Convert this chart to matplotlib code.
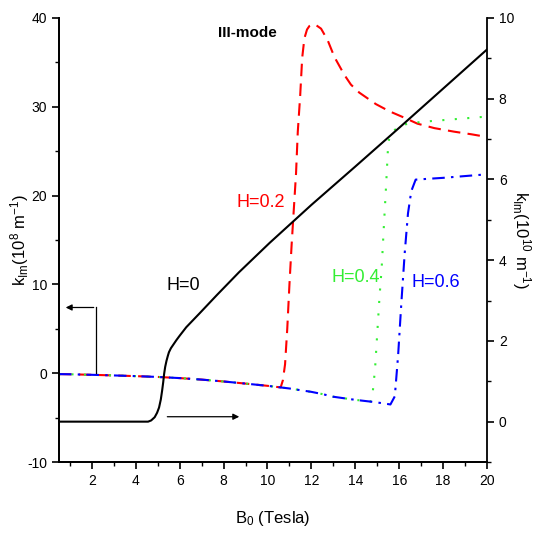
import matplotlib
matplotlib.use("Agg")
import matplotlib.pyplot as plt
from matplotlib.ticker import MultipleLocator

plt.rcParams['font.family'] = ['Liberation Sans Narrow', 'Liberation Sans', 'DejaVu Sans']
plt.rcParams['mathtext.default'] = 'regular'
plt.rcParams['axes.unicode_minus'] = False

# common low-field branch shared by H=0.2, 0.4, 0.6 (left axis, 10^8 m^-1)
base_b = [0.5, 1, 2, 3, 4, 5, 6, 7, 8, 9, 10, 10.6, 11, 12, 12.5, 13, 14, 14.7, 15, 15.3, 15.6]
base_k = [-0.1, -0.12, -0.18, -0.25, -0.33, -0.42, -0.55, -0.72, -0.93, -1.17, -1.42, -1.6,
          -1.72, -2.1, -2.35, -2.65, -3.0, -3.2, -3.3, -3.4, -3.52]

# H=0.2 after it leaves the common branch
h02_b = [10.7, 10.8, 10.9, 11.0, 11.1, 11.2, 11.3, 11.38, 11.49, 11.58, 11.68, 11.8, 11.91,
         12.05, 12.21, 12.44, 12.74, 13.05, 13.5, 13.8, 14.18, 14.94, 15.55, 16.3, 16.83,
         17.6, 18.5, 19.3, 20]
h02_k = [-0.8, 1.0, 5.0, 10.0, 14.5, 18.5, 22.5, 27.2, 31.3, 35.5, 37.7, 38.7, 39.1,
         39.3, 39.2, 38.8, 37.5, 35.6, 33.6, 32.5, 31.6, 30.3, 29.5, 28.7, 28.1,
         27.6, 27.2, 26.9, 26.6]

# H=0.4
h04_b = [14.8, 14.9, 15.0, 15.1, 15.2, 15.3, 15.4, 15.5, 15.6, 15.9, 16.2, 17, 18, 19, 20]
h04_k = [-2.0, 0.5, 4.5, 8.5, 11.8, 16.5, 21.0, 25.9, 27.0, 27.6, 28.0, 28.3, 28.5, 28.7, 28.9]

# H=0.6
h06_b = [15.8, 15.95, 16.1, 16.25, 16.4, 16.55, 16.75, 18, 20]
h06_k = [-2.6, 2.0, 8.0, 13.5, 18.0, 20.5, 21.8, 22.0, 22.4]

# H=0 (right axis, 10^10 m^-1)
h0_b = [0.5, 2, 4, 4.4, 4.56, 4.7, 4.86, 4.97, 5.06, 5.14, 5.2, 5.25, 5.29, 5.34, 5.4,
        5.46, 5.51, 5.6, 5.7, 5.85, 6.0, 6.3, 6.9, 7.7, 8.7, 10.1, 12, 14, 16, 18, 20]
h0_k = [0, 0, 0, 0, 0.0, 0.03, 0.11, 0.22, 0.35, 0.55, 0.77, 0.98, 1.18, 1.36, 1.51,
        1.63, 1.72, 1.82, 1.9, 2.02, 2.13, 2.34, 2.68, 3.14, 3.7, 4.43, 5.37, 6.32, 7.28,
        8.25, 9.22]


def branch(b_end, extra_b, extra_k):
    b = [v for v in base_b if v <= b_end] + extra_b
    k = [k for v, k in zip(base_b, base_k) if v <= b_end] + extra_k
    return b, k


fig = plt.figure(figsize=(5.36, 5.34), dpi=100)
ax = fig.add_axes([0.110, 0.1348, 0.7986, 0.8315])
ax2 = ax.twinx()

b, k = branch(10.6, h02_b, h02_k)
ax.plot(b, k, color='#ff0000', lw=1.5, dashes=(6, 3.5))
b, k = branch(14.7, h04_b, h04_k)
ax.plot(b, k, color='#33ee33', lw=1.5, dashes=(1, 5))
b, k = branch(15.6, h06_b, h06_k)
ax.plot(b, k, color='#0000ff', lw=1.5, dashes=(6, 3, 1.2, 3))

ax2.plot(h0_b, h0_k, color='black', lw=1.5)

ax.set_xlim(0.5, 20)
ax.set_ylim(-10, 40)
ax2.set_ylim(-1, 10)

ax.xaxis.set_major_locator(MultipleLocator(2))
ax.xaxis.set_minor_locator(MultipleLocator(1))
ax.yaxis.set_major_locator(MultipleLocator(10))
ax.yaxis.set_minor_locator(MultipleLocator(5))
ax2.yaxis.set_major_locator(MultipleLocator(2))
ax2.yaxis.set_minor_locator(MultipleLocator(1))

for a in (ax, ax2):
    a.spines['top'].set_visible(False)
    for s in a.spines.values():
        s.set_linewidth(1.3)
    a.tick_params(which='major', direction='out', length=5, width=1.2, labelsize=10)
    a.tick_params(which='minor', direction='out', length=3, width=1.0)
ax.spines['right'].set_visible(False)

lab_font = {'family': ['Liberation Sans', 'DejaVu Sans'], 'size': 12}
ax.set_xlabel('B$_0$ (Tesla)', fontdict=lab_font)
ax.set_ylabel('k$_{Im}$(10$^8$ m$^{-1}$)', fontdict=lab_font)
ax2.set_ylabel('k$_{Im}$(10$^{10}$ m$^{-1}$)', fontdict=lab_font, rotation=-90, va='center')
ax.xaxis.set_label_coords(0.5, -0.105)
ax.yaxis.set_label_coords(-0.066, 0.5)
ax2.yaxis.set_label_coords(1.08, 0.5)

ax.text(9.09, 38.3, 'III-mode', fontsize=11, fontweight='bold', ha='center', va='center')
ax.text(9.68, 19.2, 'H=0.2', color='#ff0000', fontsize=13, ha='center', va='center')
ax.text(6.16, 9.93, 'H=0', color='black', fontsize=13, ha='center', va='center')
ax.text(14.0, 10.83, 'H=0.4', color='#33ee33', fontsize=13, ha='center', va='center')
ax.text(17.68, 10.27, 'H=0.6', color='#0000ff', fontsize=13, ha='center', va='center')

# arrows telling which axis each curve belongs to
ax.plot([2.21, 2.21], [0.0, 7.4], color='black', lw=0.9)
ax.annotate('', xy=(0.68, 7.4), xytext=(2.21, 7.4),
            arrowprops=dict(arrowstyle='-|>', color='black', lw=0.9, mutation_scale=9))
ax.annotate('', xy=(8.84, -4.9), xytext=(5.31, -4.9),
            arrowprops=dict(arrowstyle='-|>', color='black', lw=0.9, mutation_scale=9))

fig.savefig('out.png', dpi=100)
